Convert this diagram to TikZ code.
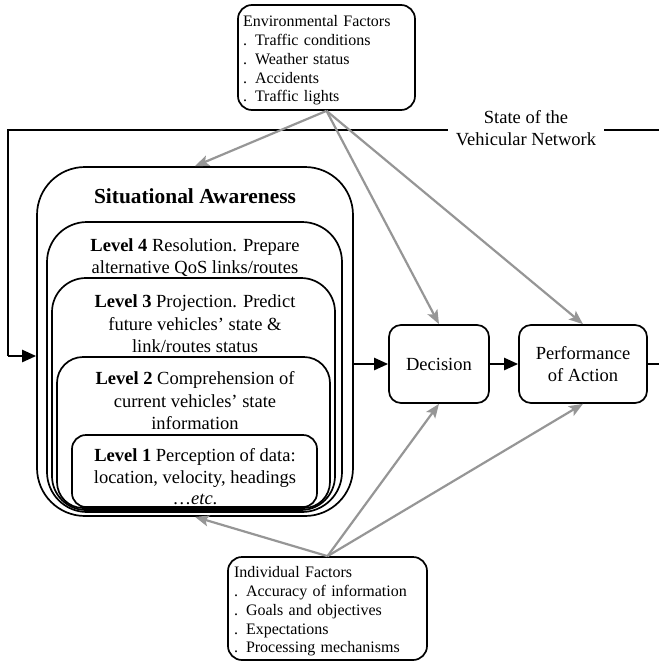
\documentclass[tikz,border=0pt]{standalone}
\usepackage{fontspec}
\setmainfont{Liberation Serif}
\usetikzlibrary{arrows.meta}
\definecolor{arrgray}{RGB}{150,150,150}
\begin{document}
\begin{tikzpicture}[x=1pt,y=-1pt,
  box/.style={draw=black, line width=1.7pt},
  grayarrow/.style={draw=arrgray, line width=2.2pt, -{Stealth[length=14pt,width=11pt,inset=3pt]}},
  blkline/.style={draw=black, line width=2.4pt},
  blkarrow/.style={blkline, -{Triangle[length=14pt,width=12pt]}},
  smalltext/.style={font=\fontsize{16}{18.8}\selectfont},
  bigtext/.style={font=\fontsize{18.5}{22.5}\selectfont}]
\useasboundingbox (0,0) rectangle (659,662);

% factor boxes
\node[box, rounded corners=14pt, minimum width=177pt, minimum height=105pt] (env) at (326.5,57.5) {};
\node[text width=167pt, inner sep=0pt, align=left, smalltext] (envtext) at (326.5,60.5)
  {Environmental Factors\\. Traffic conditions\\. Weather status\\. Accidents\\. Traffic lights};
\node[box, rounded corners=14pt, minimum width=199pt, minimum height=103pt] (ind) at (327.5,608.5) {};
\node[text width=187pt, inner sep=0pt, align=left, smalltext] (indtext) at (327.5,611.5)
  {Individual Factors\\. Accuracy of information\\. Goals and objectives\\. Expectations\\. Processing mechanisms};

% situational awareness nested boxes
\node[box, rounded corners=48pt, minimum width=316pt, minimum height=349pt] (sa) at (195,341.5) {};
\node[box, rounded corners=40pt, minimum width=295pt, minimum height=290pt] (l4) at (194.5,367) {};
\node[box, rounded corners=34pt, minimum width=283pt, minimum height=232pt] (l3) at (193.5,394) {};
\node[box, rounded corners=26pt, minimum width=273pt, minimum height=151pt] (l2) at (193.5,432.5) {};
\node[box, rounded corners=14pt, minimum width=245pt, minimum height=72pt] (l1) at (194.5,471) {};

\node[font=\fontsize{21.4}{25}\selectfont\bfseries] (satitle) at (195,196) {Situational Awareness};
\node[bigtext, align=center] (l4t) at (195,257.5) {\textbf{Level 4} Resolution. Prepare\\alternative QoS links/routes};
\node[bigtext, align=center] (l3t) at (195,324) {\textbf{Level 3} Projection. Predict\\future vehicles’ state \&\\link/routes status};
\node[bigtext, align=center] (l2t) at (195,401) {\textbf{Level 2} Comprehension of\\current vehicles’ state\\information};
\node[font=\fontsize{18.5}{21.5}\selectfont, align=center] (l1t) at (195,477) {\textbf{Level 1} Perception of data:\\location, velocity, headings\\…\textit{etc}.};

% decision and action
\node[box, rounded corners=12pt, minimum width=100pt, minimum height=78pt, bigtext] (dec) at (439,364) {Decision};
\node[box, rounded corners=12pt, minimum width=128pt, minimum height=78pt, align=center,
      font=\fontsize{18.5}{21.5}\selectfont] (perf) at (583,364) {Performance\\of Action};

% feedback loop
\node[bigtext, align=center, inner xsep=8pt] (state) at (526,128) {State of the\\Vehicular Network};
\coordinate (fbR) at (659,130);
\coordinate (fbL) at (8,130);
\coordinate (fbD) at (8,356);
\coordinate (outR) at (659,364);
\draw[blkline] (fbR) -- (fbR -| state.east);
\draw[blkline] (state.west |- fbL) -- (fbL) -- (fbD);
\draw[blkarrow] (fbD) -- (fbD -| sa.west);
\draw[blkarrow] (dec.west -| sa.east) -- (dec.west);
\draw[blkarrow] (dec.east) -- (perf.west);
\draw[blkline] (perf.east) -- (outR);

% factor influences
\draw[grayarrow] (env.south) -- (sa.north);
\draw[grayarrow] (env.south) -- (dec.north);
\draw[grayarrow] (env.south) -- (perf.north);
\draw[grayarrow] (ind.north) -- (sa.south);
\draw[grayarrow] (ind.north) -- (dec.south);
\draw[grayarrow] (ind.north) -- (perf.south);
\end{tikzpicture}
\end{document}
